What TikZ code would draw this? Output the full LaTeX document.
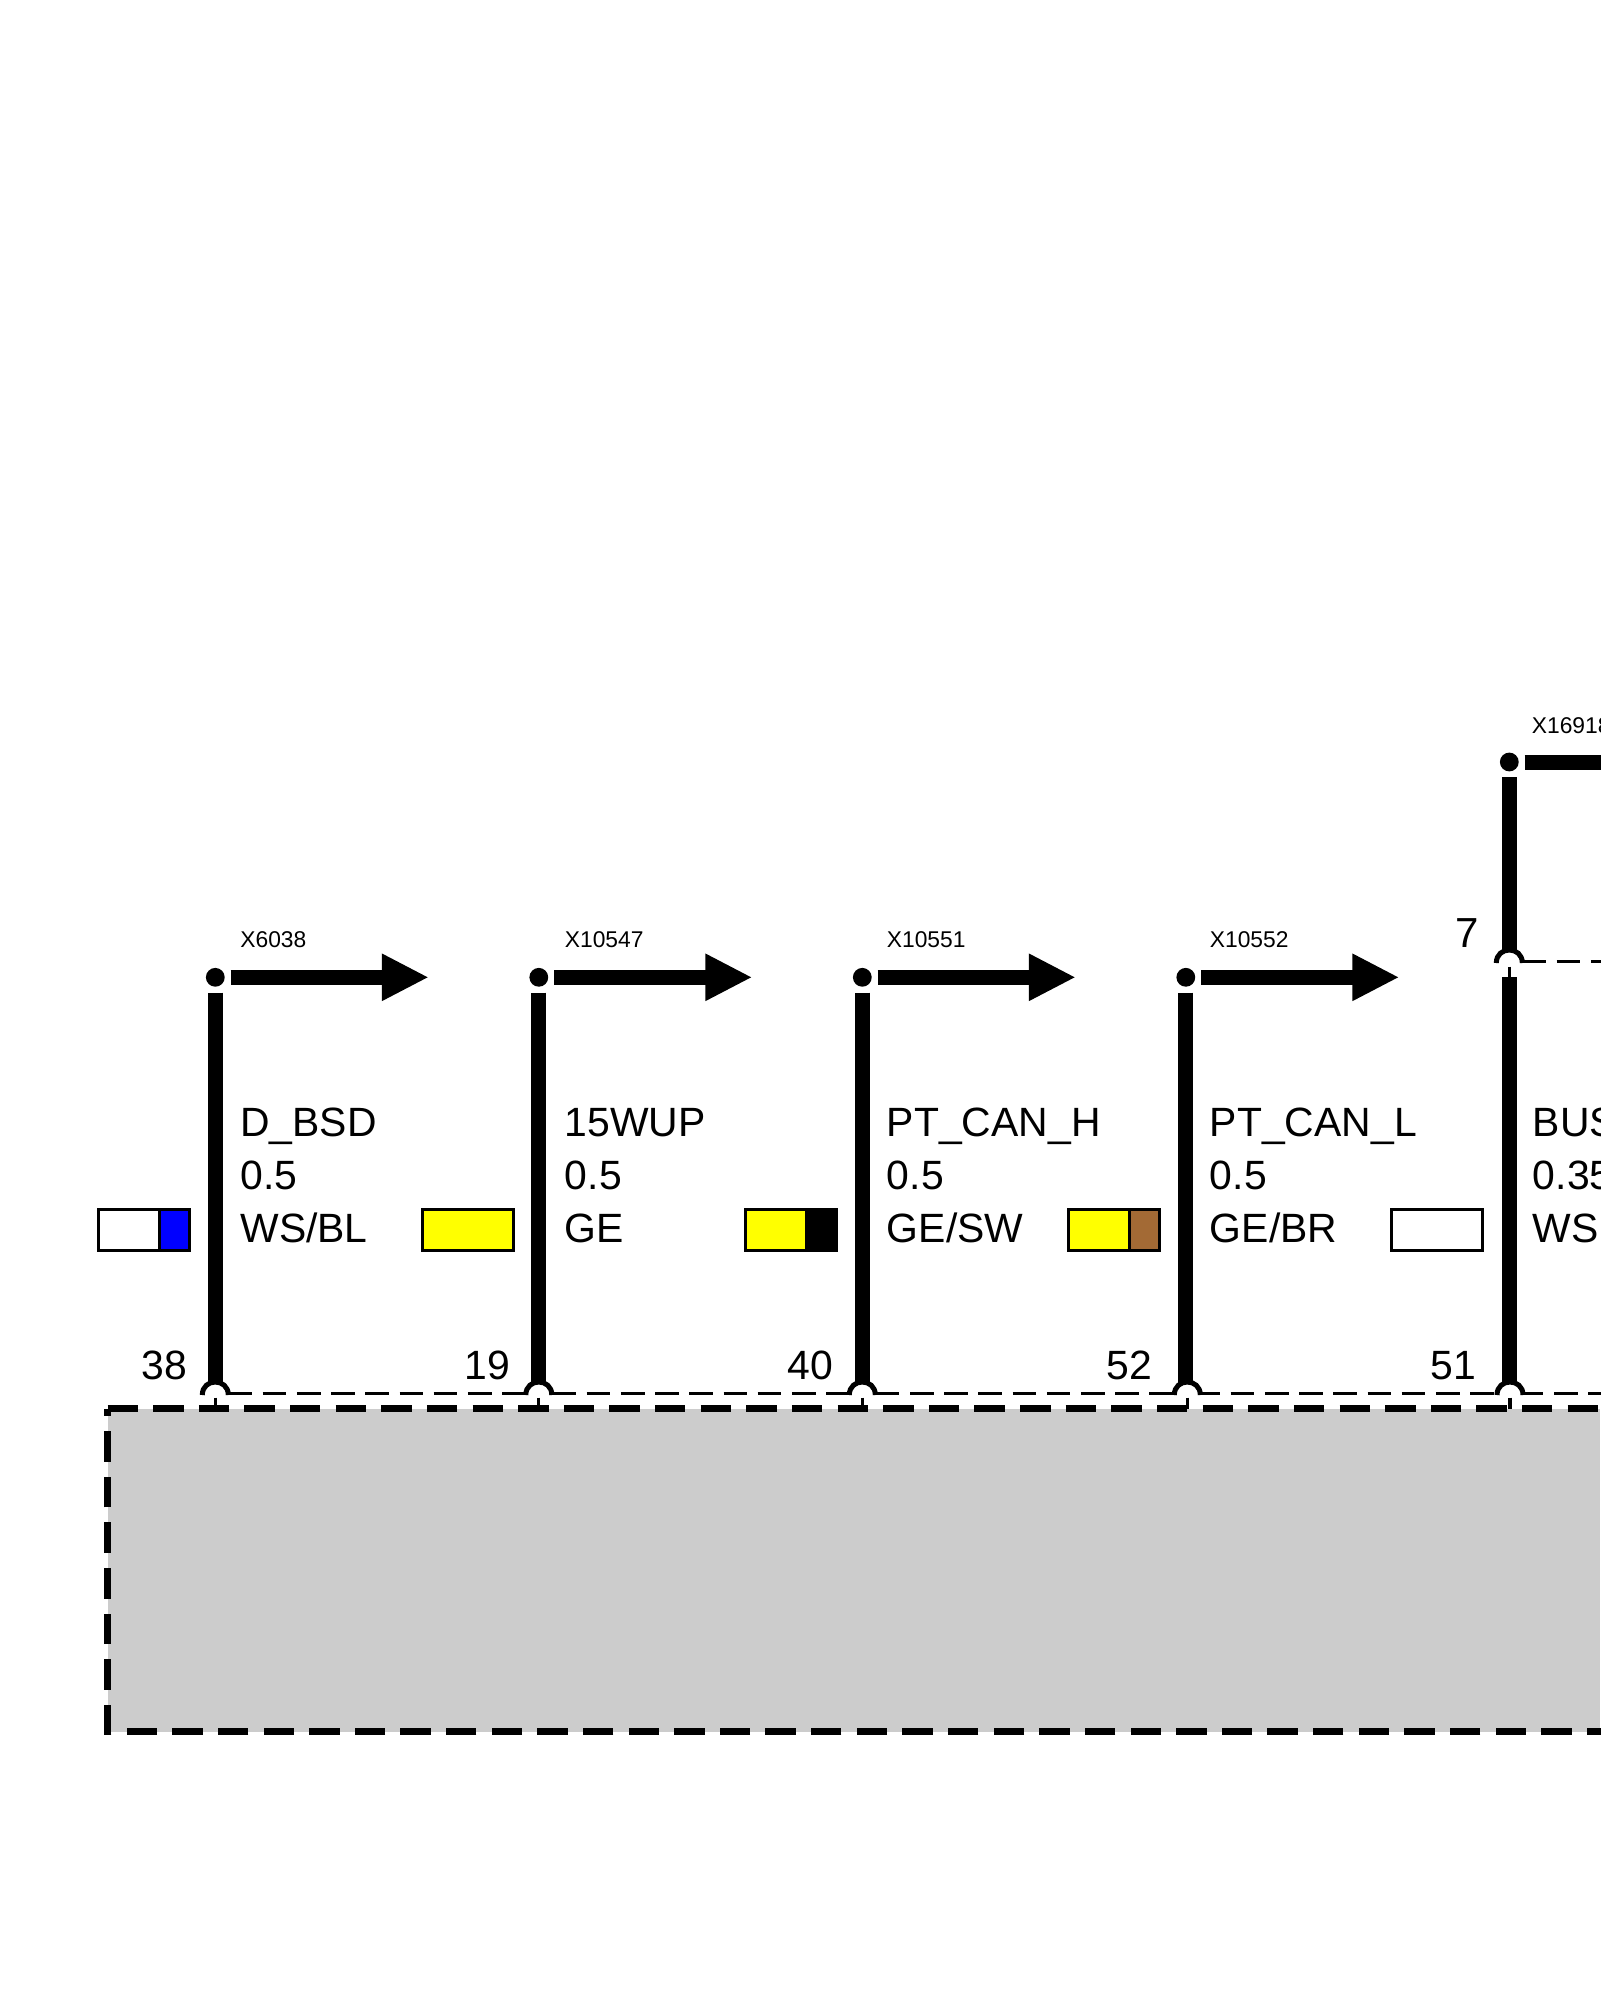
\documentclass[tikz,border=0pt]{standalone}
\usepackage{fontspec}
\setmainfont{Liberation Sans}
\usetikzlibrary{arrows.meta}
\definecolor{cyel}{RGB}{255,255,0}
\definecolor{cblu}{RGB}{0,0,255}
\definecolor{cbrn}{RGB}{163,106,53}
\definecolor{cgry}{RGB}{204,204,204}
\tikzset{
  x=0.5pt,y=-0.5pt,
  wire/.style={line width=7.5pt,line cap=butt},
  arrowwire/.style={wire,-{Triangle[length=23.5pt,width=22pt]}},
  junction/.style={circle,fill=black,draw=none,minimum size=9.4pt,inner sep=0pt,outer sep=3pt},
  thinbus/.style={line width=1.5pt,dash pattern=on 11.8pt off 5.3pt},
  housing/.style={line width=3.65pt,dash pattern=on 15.2pt off 7.615pt,line join=miter},
  swatch/.style={line width=1.75pt,draw=black},
  pinarc/.style={line width=2.5pt,fill=white,line cap=butt},
  stub/.style={line width=1.6pt},
  small/.style={anchor=base west,inner sep=0pt,font=\fontsize{11.4}{13}\selectfont},
  big/.style={anchor=base west,inner sep=0pt,font=\fontsize{20.45}{24}\selectfont},
}
\newcommand{\pinhood}[2]{%
  \filldraw[pinarc] (#1+13,#2) .. controls (#1+13,#2-17.33) and (#1-13,#2-17.33) .. (#1-13,#2);}
\begin{document}
\begin{tikzpicture}
\useasboundingbox (0,0) rectangle (1600,2000);
% housing
\fill[cgry] (107.5,1408.5) rectangle (1600,1731.5);
\draw[housing] (107.5,1408.5) -- (1704.7,1408.5) -- (1704.7,1731.5) -- (107.5,1731.5) -- cycle;
% terminals on the lower bus
\foreach \i/\a in {1/215.3,2/538.8,3/862.3,4/1187.3,5/1510}{
  \coordinate (t\i) at (\a,1395);
  \coordinate (h\i) at (\a,1408.5);
  \coordinate (q\i) at (\a,1397.5);
}
% thin dashed bus
\foreach \i/\s/\e in {1/228.5/525.8,2/552.5/849.3,3/875.8/1174.3,4/1196.5/1497,5/1519.8/1620}{
  \coordinate (bs\i) at (\s,1393.3);
  \coordinate (be\i) at (\e,1393.3);
  \draw[thinbus] (bs\i) -- (be\i);
}
\foreach \a in {215.3,538.8,862.3,1187.3,1510}{\pinhood{\a}{1395}}
\foreach \i in {1,...,5}{\draw[stub] (q\i) -- (h\i);}
% wire columns
\foreach \i/\w/\y/\tx/\nx/\num/\sig/\area/\col/\xl in {
  1/215.3/977.3/240/141.5/38/D\_BSD/0.5/WS\slash BL/X6038,
  2/538.8/977.3/564.5/464/19/15WUP/0.5/GE/X10547,
  3/862.3/977.3/886.5/787/40/PT\_CAN\_H/0.5/GE\slash SW/X10551,
  4/1185.8/977.3/1209.5/1106/52/PT\_CAN\_L/0.5/GE\slash BR/X10552}{
  \node[junction] (j\i) at (\w,\y) {};
  \coordinate (w\i) at (\w,1384);
  \coordinate (a\i) at (\w+213.5,\y);
  \draw[wire] (j\i) -- (w\i);
  \draw[arrowwire] (j\i) -- (a\i);
  \node[small] (x\i) at (\tx,947.2) {\xl};
  \node[big] (s\i) at (\tx,1136) {\sig};
  \node[big] (d\i) at (\tx,1189.3) {\area};
  \node[big] (c\i) at (\tx,1242.7) {\col};
  \node[big] (n\i) at (\nx,1379.5) {\num};
}
% fifth column
\node[junction] (j5) at (1509.3,762) {};
\coordinate (r5) at (1620,762);
\draw[wire] (j5) -- (r5);
\coordinate (u5) at (1509.3,952);
\draw[wire] (j5) -- (u5);
\coordinate (l5) at (1509.3,977);
\coordinate (w5) at (1509.3,1384);
\draw[wire] (l5) -- (w5);
\coordinate (us) at (1522.5,961);
\coordinate (ue) at (1620,961);
\draw[thinbus] (us) -- (ue);
\pinhood{1509.3}{963}
\coordinate (ss) at (1509.3,966.7);
\draw[stub] (ss) -- (l5);
\node[small] (x5) at (1531.5,733.6) {X16918};
\node[big] (s5) at (1532.5,1136) {BUS};
\node[big] (d5) at (1532.5,1189.3) {0.35};
\node[big] (c5) at (1532.5,1242.7) {WS};
\node[big] (n5) at (1430.5,1379.5) {51};
\node[anchor=base west,inner sep=0pt,font=\fontsize{21}{25}\selectfont] (n6) at (1455,947.3) {7};
% colour swatches
\foreach \x/\c in {98.3/white,422.5/cyel,745.6/cyel,1068.3/cyel,1391.7/white}{
  \draw[swatch,fill=\c] (\x,1209.3) rectangle (\x+91,1250.7);
}
\foreach \x/\c in {98.3/cblu,745.6/black,1068.3/cbrn}{
  \draw[swatch,fill=\c] (\x+61,1209.3) rectangle (\x+91,1250.7);
}
\end{tikzpicture}
\end{document}
